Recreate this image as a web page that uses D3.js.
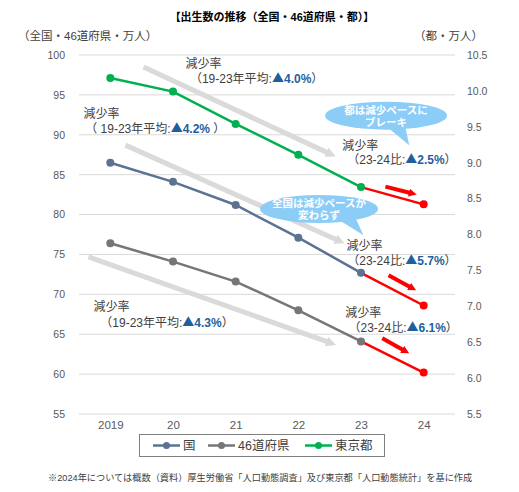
<!DOCTYPE html>
<html lang="ja">
<head>
<meta charset="UTF-8">
<title>出生数の推移</title>
<style>
  body { margin: 0; background: #fff; }
  text { font-family: "Liberation Sans", "Noto Sans CJK JP", sans-serif; }
  .tick text { fill: #595959; font-size: 10.5px; }
  .axis path, .axis line { display: none; }
  .note { font-size: 12px; fill: #404040; }
  .tri { font-family: "Noto Sans CJK JP", sans-serif; }
</style>
</head>
<body>
<svg id="chart" width="519" height="492"></svg>
<script src="https://d3js.org/d3.v7.min.js"></script>
<script>
// data (万人)
const years = ["2019", "20", "21", "22", "23", "24"];
const zenkoku = [86.5, 84.1, 81.2, 77.1, 72.7, 68.6];   // 国 (left axis)
const dofuken = [76.4, 74.1, 71.6, 68.0, 64.1, 60.2];   // 46道府県 (left axis)
const tokyo = [10.18, 9.99, 9.54, 9.11, 8.66, 8.42];    // 東京都 (right axis)
const leftTicks = [55, 60, 65, 70, 75, 80, 85, 90, 95, 100];
const rightTicks = [5.5, 6.0, 6.5, 7.0, 7.5, 8.0, 8.5, 9.0, 9.5, 10.0, 10.5];

const seriesNames = ["国", "46道府県", "東京都"];
const seriesColors = ["#5b7293", "#767676", "#00b050"];
const red = "#ff0000";

// annotations, anchored in data units (i = category index, v = left-axis value)
const trendArrows = [
  { i0: 0.53, v0: 98.5, i1: 3.48, v1: 87.7 },
  { i0: 0.24, v0: 88.7, i1: 3.62, v1: 76.8 },
  { i0: -0.35, v0: 74.7, i1: 3.48, v1: 64.0 }
];
const redArrows = [
  { i0: 4.39, v0: 83.5, i1: 4.79, v1: 82.7 },
  { i0: 4.44, v0: 72.4, i1: 4.79, v1: 70.9 },
  { i0: 4.34, v0: 64.5, i1: 4.68, v1: 63.0 }
];
const rateNotes = [
  { i: 1.20, v: 98.4, i2: 1.27, v2: 96.5, pre: "（19-23年平均:", rate: "4.0%", post: "）" },
  { i: -0.43, v: 92.1, i2: -0.40, v2: 90.2, pre: "（ 19-23年平均:", rate: "4.2%", post: " ）" },
  { i: 3.70, v: 88.1, i2: 3.78, v2: 86.3, pre: "（23-24比:", rate: "2.5%", post: "）" },
  { i: 3.77, v: 75.6, i2: 3.78, v2: 73.7, pre: "（23-24比:", rate: "5.7%", post: "）" },
  { i: -0.27, v: 67.9, i2: -0.16, v2: 65.9, pre: "（19-23年平均:", rate: "4.3%", post: "）" },
  { i: 3.75, v: 67.1, i2: 3.80, v2: 65.3, pre: "（23-24比:", rate: "6.1%", post: "）" }
];
const callouts = [
  { i: 4.40, v: 92.4, rx: 61, ry: 14, ti: 4.77, tv: 88.7, base: [[2, 12], [19, 10]], lines: ["都は減少ペースに", "ブレーキ"] },
  { i: 3.33, v: 80.7, rx: 59, ry: 14, ti: 4.04, tv: 77.4, base: [[20, 11], [36, 8]], lines: ["全国は減少ペースが", "変わらず"] }
];

const svg = d3.select("#chart");
const plot = { left: 79, right: 455, top: 55, bottom: 414 };

const x = d3.scalePoint().domain(years).range([plot.left, plot.right]).padding(0.5);
const yL = d3.scaleLinear().domain([55, 100]).range([plot.bottom, plot.top]);
const yR = d3.scaleLinear().domain([5.5, 10.5]).range([plot.bottom, plot.top]);
const X = i => x(years[0]) + i * x.step();

// gridlines
svg.append("g").selectAll("line").data(leftTicks).join("line")
  .attr("x1", plot.left).attr("x2", plot.right)
  .attr("y1", d => yL(d)).attr("y2", d => yL(d))
  .attr("stroke", "#d9d9d9").attr("stroke-width", 1);

// axes
svg.append("g").attr("class", "axis")
  .attr("transform", `translate(${plot.left},0)`)
  .call(d3.axisLeft(yL).tickValues(leftTicks).tickSize(0).tickPadding(14));
svg.append("g").attr("class", "axis")
  .attr("transform", `translate(${plot.right},0)`)
  .call(d3.axisRight(yR).tickValues(rightTicks).tickSize(0).tickPadding(12).tickFormat(d3.format(".1f")));
svg.append("g").attr("class", "axis")
  .attr("transform", `translate(0,${plot.bottom})`)
  .call(d3.axisBottom(x).tickSize(0).tickPadding(7))
  .selectAll("text").style("font-size", "11.5px");

// titles
svg.append("text").attr("x", 272).attr("y", 21).attr("text-anchor", "middle")
  .style("font-size", "11px").style("font-weight", "bold").attr("fill", "#000")
  .text("【出生数の推移（全国・46道府県・都）】");
svg.append("text").attr("x", 18).attr("y", 40).style("font-size", "11.5px").attr("fill", "#404040")
  .text("（全国・46道府県・万人）");
svg.append("text").attr("x", 483).attr("y", 40).attr("text-anchor", "end").style("font-size", "11.5px").attr("fill", "#404040")
  .text("（都・万人）");

// arrow markers
const defs = svg.append("defs");
function marker(id, color, w, h) {
  defs.append("marker").attr("id", id).attr("viewBox", "0 0 10 10")
    .attr("refX", 2).attr("refY", 5).attr("markerWidth", w).attr("markerHeight", h)
    .attr("markerUnits", "userSpaceOnUse").attr("orient", "auto")
    .append("path").attr("d", "M0,0 L10,5 L0,10 Z").attr("fill", color);
}
marker("grayHead", "#d9d9d9", 10, 10);
marker("redHead", red, 8, 9);

svg.append("g").selectAll("line").data(trendArrows).join("line")
  .attr("x1", d => X(d.i0)).attr("y1", d => yL(d.v0))
  .attr("x2", d => X(d.i1)).attr("y2", d => yL(d.v1))
  .attr("stroke", "#dadada").attr("stroke-width", 5)
  .attr("marker-end", "url(#grayHead)");

svg.append("g").selectAll("line").data(redArrows).join("line")
  .attr("x1", d => X(d.i0)).attr("y1", d => yL(d.v0))
  .attr("x2", d => X(d.i1)).attr("y2", d => yL(d.v1))
  .attr("stroke", red).attr("stroke-width", 4)
  .attr("marker-end", "url(#redHead)");

// series lines
const series = [
  { values: zenkoku, y: yL, color: seriesColors[0] },
  { values: dofuken, y: yL, color: seriesColors[1] },
  { values: tokyo, y: yR, color: seriesColors[2] }
];
const line = d3.line();
series.forEach(s => {
  const pts = s.values.map((v, i) => [x(years[i]), s.y(v)]);
  svg.append("path").attr("d", line(pts.slice(0, 5)))
    .attr("fill", "none").attr("stroke", s.color).attr("stroke-width", 2.5);
  svg.append("path").attr("d", line(pts.slice(4)))
    .attr("fill", "none").attr("stroke", red).attr("stroke-width", 2.5);
  svg.append("g").selectAll("circle").data(pts).join("circle")
    .attr("cx", d => d[0]).attr("cy", d => d[1]).attr("r", 4)
    .attr("fill", (d, i) => i === 5 ? red : s.color);
});

// rate notes
const notes = svg.append("g");
rateNotes.forEach(n => {
  notes.append("text").attr("class", "note").attr("x", X(n.i)).attr("y", yL(n.v)).text("減少率");
  const t = notes.append("text").attr("class", "note").attr("x", X(n.i2)).attr("y", yL(n.v2));
  t.append("tspan").text(n.pre);
  t.append("tspan").attr("class", "tri").attr("fill", "#1f5f9e").text("▲");
  t.append("tspan").attr("fill", "#1f5f9e").style("font-weight", "bold").text(n.rate);
  t.append("tspan").text(n.post);
});

// callouts
callouts.forEach(c => {
  const cx = X(c.i), cy = yL(c.v);
  const g = svg.append("g");
  g.append("path")
    .attr("d", `M${cx + c.base[0][0]},${cy + c.base[0][1]} L${X(c.ti)},${yL(c.tv)} L${cx + c.base[1][0]},${cy + c.base[1][1]} Z`)
    .attr("fill", "#8ccdf7");
  g.append("ellipse").attr("cx", cx).attr("cy", cy).attr("rx", c.rx).attr("ry", c.ry).attr("fill", "#8ccdf7");
  g.selectAll("text").data(c.lines).join("text")
    .attr("x", cx).attr("y", (d, i) => cy - 2 + i * 12.5)
    .attr("text-anchor", "middle").attr("fill", "#fff")
    .style("font-size", "10.5px").style("font-weight", "bold").text(d => d);
});

// legend
const legend = svg.append("g");
legend.append("rect").attr("x", 139.5).attr("y", 434.5).attr("width", 245).attr("height", 22)
  .attr("fill", "#fff").attr("stroke", "#7f7f7f").attr("stroke-width", 1);
const legendX = [153, 208, 305];
seriesNames.forEach((name, i) => {
  const lx = legendX[i], ly = 445.5;
  legend.append("line").attr("x1", lx).attr("x2", lx + 27).attr("y1", ly).attr("y2", ly)
    .attr("stroke", seriesColors[i]).attr("stroke-width", 2.5);
  legend.append("circle").attr("cx", lx + 13.5).attr("cy", ly).attr("r", 3.5).attr("fill", seriesColors[i]);
  legend.append("text").attr("x", lx + 30).attr("y", ly + 4.5).style("font-size", "12.5px").attr("fill", "#404040").text(name);
});

// footnote
svg.append("text").attr("x", 48).attr("y", 481).style("font-size", "9.2px").attr("fill", "#404040")
  .text("※2024年については概数（資料）厚生労働省「人口動態調査」及び東京都「人口動態統計」を基に作成");
</script>
</body>
</html>
